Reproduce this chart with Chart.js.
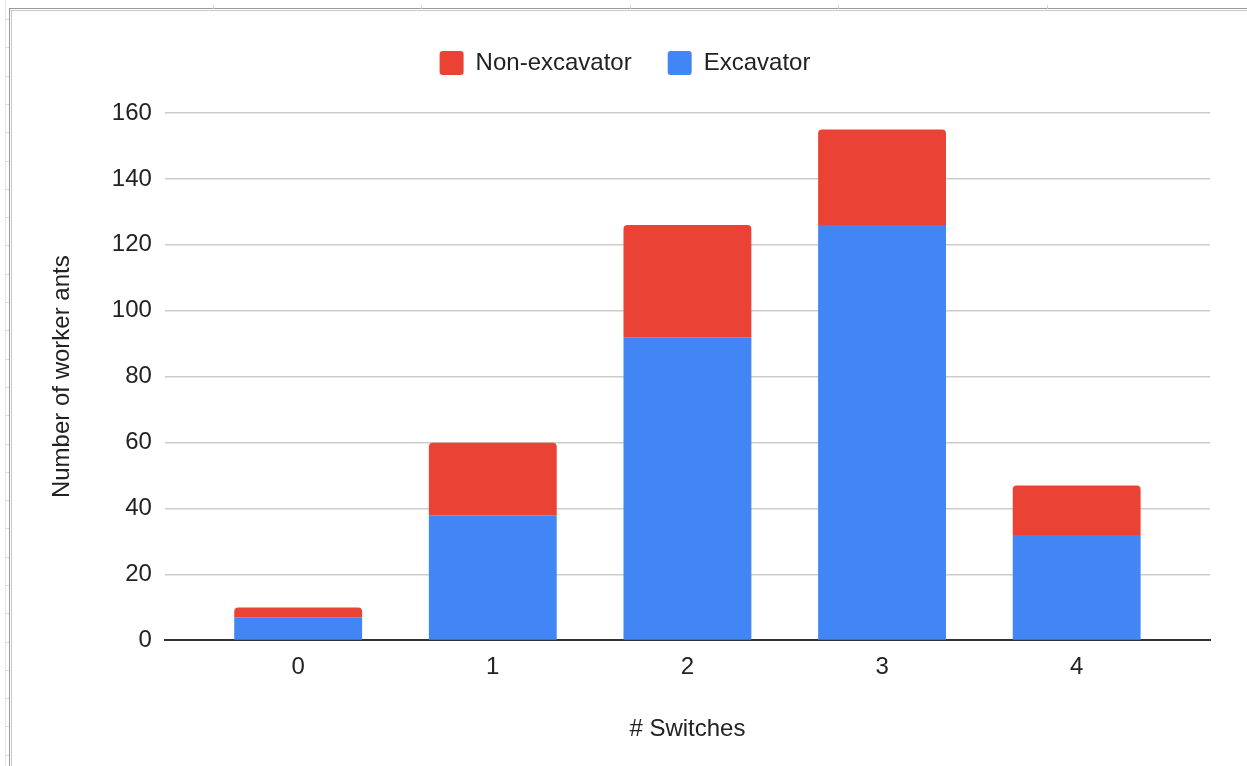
<!DOCTYPE html>
<html>
<head>
<meta charset="utf-8">
<title># Switches vs worker ants</title>
<script src="https://cdn.jsdelivr.net/npm/chart.js@4"></script>
<style>
  html, body { margin: 0; padding: 0; background: #fff; }
  #wrap { position: relative; width: 1247px; height: 766px; overflow: hidden; }
  #chart { position: absolute; left: 0; top: 0; }
  /* spreadsheet frame around the embedded chart */
  .frame-top { position: absolute; left: 9px; top: 8px; right: 0; height: 1px; background: #9a9a9a; }
  .frame-top2 { position: absolute; left: 10px; top: 10px; right: 0; height: 1px; background: #c8c8c8; }
  .frame-left { position: absolute; left: 9px; top: 8px; bottom: 0; width: 1px; background: #9a9a9a; }
  .frame-left2 { position: absolute; left: 11px; top: 10px; bottom: 0; width: 1px; background: #c8c8c8; }
  .edge { position: absolute; left: 5px; top: 0; bottom: 0; width: 1px; background: #e6e6e6; }
  .tick-v { position: absolute; top: 5px; width: 1px; height: 4px; background: #d0d0d0; }
  .tick-h { position: absolute; left: 5px; width: 4px; height: 1px; background: #dcdcdc; }
</style>
</head>
<body>
<div id="wrap">
  <canvas id="chart" width="1247" height="766"></canvas>
  <div class="edge"></div>
  <div class="frame-top"></div>
  <div class="frame-top2"></div>
  <div class="frame-left"></div>
  <div class="frame-left2"></div>
  <div id="ticks"></div>
</div>
<script>
// Number of worker ants by number of task switches
const categories = ['0', '1', '2', '3', '4'];
const excavator = [7, 38, 92, 126, 32];
const nonExcavator = [3, 22, 34, 29, 15];
const yTicks = [0, 20, 40, 60, 80, 100, 120, 140, 160];

// small column / row markers of the sheet frame
(function () {
  const holder = document.getElementById('ticks');
  [213, 421, 630, 838, 1047].forEach(function (x) {
    const d = document.createElement('div');
    d.className = 'tick-v';
    d.style.left = x + 'px';
    holder.appendChild(d);
  });
  for (let y = 19; y < 766; y += 28.3) {
    const d = document.createElement('div');
    d.className = 'tick-h';
    d.style.top = Math.round(y) + 'px';
    holder.appendChild(d);
  }
})();

const FONT = "'Liberation Sans', Arial, sans-serif";
const TEXT = '#222222';

const toPoints = arr => arr.map((v, i) => ({ x: i, y: v }));

// leave extra room between the legend row and the plot
const legendSpacing = {
  id: 'legendSpacing',
  beforeInit(chart) {
    const fit = chart.legend.fit;
    chart.legend.fit = function () {
      fit.call(this);
      this.height += 28;
    };
  }
};

new Chart(document.getElementById('chart'), {
  type: 'bar',
  data: {
    datasets: [
      {
        label: 'Excavator',
        data: toPoints(excavator),
        backgroundColor: '#4285F4',
        borderWidth: 0,
        borderRadius: 0
      },
      {
        label: 'Non-excavator',
        data: toPoints(nonExcavator),
        backgroundColor: '#EA4335',
        borderWidth: 0,
        borderRadius: { topLeft: 4, topRight: 4, bottomLeft: 0, bottomRight: 0 },
        borderSkipped: 'start'
      }
    ]
  },
  plugins: [legendSpacing],
  options: {
    responsive: false,
    animation: false,
    devicePixelRatio: 1,
    layout: { padding: { top: 15, left: 40, right: 37, bottom: 22 } },
    datasets: {
      bar: { categoryPercentage: 1, barPercentage: 0.657 }
    },
    plugins: {
      tooltip: { enabled: false },
      legend: {
        position: 'top',
        reverse: true,
        labels: {
          color: TEXT,
          font: { family: FONT, size: 24 },
          boxWidth: 24,
          boxHeight: 24,
          useBorderRadius: true,
          borderRadius: 3,
          padding: 36
        }
      }
    },
    scales: {
      x: {
        type: 'linear',
        stacked: true,
        offset: false,
        min: -0.685,
        max: 4.685,
        afterBuildTicks: axis => {
          axis.ticks = categories.map((c, i) => ({ value: i }));
        },
        ticks: {
          color: TEXT,
          font: { family: FONT, size: 24 },
          padding: 13,
          callback: v => categories[v]
        },
        grid: { display: false, drawTicks: false },
        border: { display: true, color: '#333333', width: 2 },
        title: {
          display: true,
          text: '# Switches',
          color: TEXT,
          font: { family: FONT, size: 24 },
          padding: { top: 20, bottom: 0 }
        }
      },
      y: {
        stacked: true,
        min: 0,
        max: 160,
        afterBuildTicks: axis => {
          axis.ticks = yTicks.map(v => ({ value: v }));
        },
        ticks: {
          color: TEXT,
          font: { family: FONT, size: 24 },
          padding: 13
        },
        grid: {
          drawTicks: false,
          color: ctx => (ctx.tick && ctx.tick.value === 0) ? 'rgba(0,0,0,0)' : '#cccccc',
          lineWidth: 1.5
        },
        border: { display: false },
        title: {
          display: true,
          text: 'Number of worker ants',
          color: TEXT,
          font: { family: FONT, size: 24 },
          padding: { top: 8, bottom: 22 }
        }
      }
    }
  }
});
</script>
</body>
</html>
